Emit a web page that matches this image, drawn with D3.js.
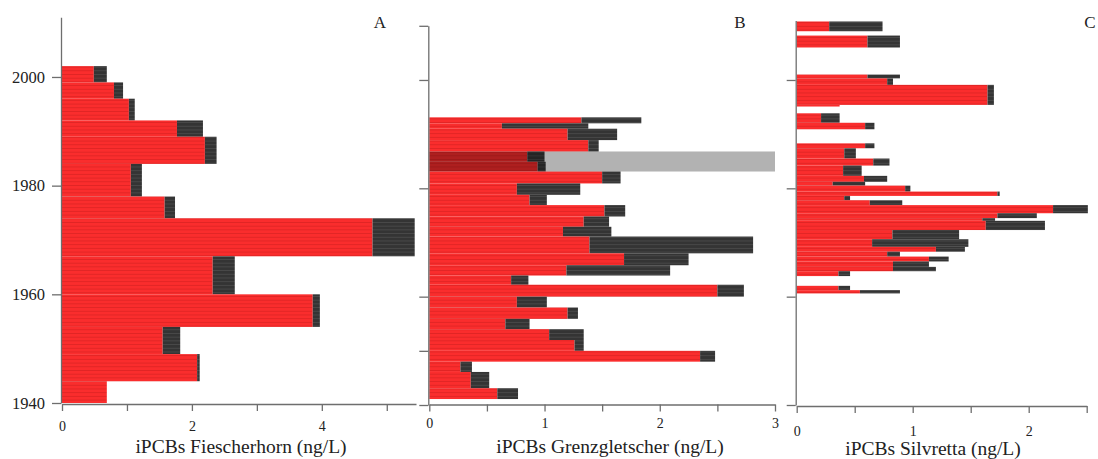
<!DOCTYPE html>
<html>
<head>
<meta charset="utf-8">
<script src="https://cdn.jsdelivr.net/npm/d3@7"></script>
<style>
  body { margin: 0; background: #fff; }
  svg { display: block; font-family: "Liberation Serif", "DejaVu Serif", serif; }
  .axis { font-family: "Liberation Serif", "DejaVu Serif", serif; }
  .axis path, .axis line { stroke: #6e6e6e; stroke-width: 1.3; }
  .axis text { fill: #222; }
</style>
</head>
<body>
<svg id="chart" width="1098" height="459"></svg>
<script>
// --- Fiescherhorn (A): layer boundaries (years) and iPCB values per layer
var aEdges = [2002, 1999, 1996, 1992, 1989, 1984, 1978, 1974, 1967, 1960, 1954, 1949, 1944, 1940];
var aRed   = [0.49, 0.80, 1.03, 1.77, 2.20, 1.06, 1.58, 4.78, 2.32, 3.86, 1.55, 2.08, 0.69];
var aDark  = [0.20, 0.14, 0.09, 0.40, 0.18, 0.17, 0.16, 0.65, 0.34, 0.11, 0.27, 0.04, 0.00];

// --- Grenzgletscher (B)
var bEdges = [1993.1, 1992.0, 1991.0, 1988.9, 1986.8, 1984.9, 1983.1, 1980.9, 1978.8, 1976.9,
              1974.8, 1972.9, 1971.1, 1968.0, 1965.8, 1963.9, 1962.2, 1960.0, 1958.0, 1955.9,
              1954.0, 1952.0, 1950.0, 1948.0, 1946.1, 1943.1, 1941.1];
var bRed  = [1.32, 0.63, 1.20, 1.38, 0.85, 0.94, 1.50, 0.76, 0.87, 1.52, 1.34, 1.16, 1.39,
             1.69, 1.19, 0.71, 2.50, 0.76, 1.20, 0.66, 1.04, 1.26, 2.35, 0.27, 0.36, 0.59];
var bDark = [0.52, 0.75, 0.43, 0.09, 0.15, 0.07, 0.16, 0.55, 0.15, 0.18, 0.22, 0.42, 1.42,
             0.56, 0.90, 0.15, 0.23, 0.26, 0.09, 0.21, 0.30, 0.08, 0.13, 0.10, 0.16, 0.18];
var bShade = [1986.8, 1983.1];   // shaded interval in B

// --- Silvretta (C): samples are not contiguous, so top/bottom per sample
var cTop    = [2010.8, 2008.2, 2001.0, 2000.3, 1999.1, 1995.4, 1993.85, 1992.1, 1988.3, 1987.4,
               1985.5, 1984.2, 1982.3, 1981.2, 1980.5, 1979.4, 1978.6, 1977.8, 1976.9, 1975.4,
               1974.5, 1974.0, 1972.3, 1970.6, 1969.2, 1968.3, 1967.4, 1966.5, 1965.5, 1964.7,
               1962.0, 1961.2];
var cBottom = [2009.0, 2006.0, 2000.3, 1999.1, 1995.4, 1995.1, 1992.1, 1990.9, 1987.4, 1985.5,
               1984.2, 1982.3, 1981.2, 1980.5, 1979.4, 1978.6, 1977.8, 1976.9, 1975.4, 1974.5,
               1974.0, 1972.3, 1970.6, 1969.2, 1968.3, 1967.4, 1966.5, 1965.5, 1964.7, 1963.8,
               1961.2, 1960.6];
var cRed  = [0.28, 0.61, 0.61, 0.78, 1.645, 0.37, 0.21, 0.59, 0.59, 0.41, 0.66, 0.40, 0.58, 0.31,
             0.935, 1.73, 0.41, 0.63, 2.21, 1.73, 1.60, 1.63, 0.825, 0.65, 1.20, 0.78, 1.14,
             0.83, 0.83, 0.36, 0.36, 0.545];
var cDark = [0.46, 0.28, 0.28, 0.05, 0.055, 0.00, 0.16, 0.08, 0.08, 0.10, 0.14, 0.16, 0.20, 0.28,
             0.045, 0.02, 0.05, 0.28, 0.30, 0.34, 0.11, 0.51, 0.575, 0.83, 0.25, 0.11, 0.17,
             0.31, 0.37, 0.10, 0.10, 0.345];

var yearTicksA = [1940, 1960, 1980, 2000];
var yearTicksB = [1940, 1950, 1960, 1980, 2000, 2010];
var yearTicksC = [1940, 1960, 1980, 2000];

var svg = d3.select("#chart");

// striped fills (thin lines between layers)
var defs = svg.append("defs");
function stripe(id, base, line) {
  var p = defs.append("pattern").attr("id", id)
    .attr("patternUnits", "userSpaceOnUse").attr("width", 10).attr("height", 3.7);
  p.append("rect").attr("width", 10).attr("height", 3.7).attr("fill", base);
  p.append("rect").attr("width", 10).attr("height", 0.7).attr("fill", line);
}
stripe("redStripe", "#fa2d2d", "#d82222");
stripe("darkStripe", "#343434", "#4f4f4f");

function rowsFromEdges(edges, red, dark) {
  return red.map(function(r, i) {
    return {top: edges[i], bottom: edges[i + 1], red: r, dark: dark[i]};
  });
}
function rowsFromPairs(top, bottom, red, dark) {
  return red.map(function(r, i) {
    return {top: top[i], bottom: bottom[i], red: r, dark: dark[i]};
  });
}

var panels = [
  {rows: rowsFromEdges(aEdges, aRed, aDark), xMax: 5.45, xr: [62, 416], yTop: 2011, yr: [403, 17.2],
   xAxisY: 404, xTicks: [0, 1, 2, 3, 4, 5], xLabels: [0, 2, 4], labelPad: 10,
   yTicks: yearTicksA, yLabels: true, letter: "A", letterX: 380,
   title: "iPCBs Fiescherhorn (ng/L)", titleX: 241, titleY: 453},
  {rows: rowsFromEdges(bEdges, bRed, bDark), xMax: 3, xr: [429.3, 775], yTop: 2010, yr: [405, 25.8],
   xAxisY: 404.5, xTicks: d3.range(0, 3.01, 0.5), xLabels: [0, 1, 2, 3], labelPad: 7,
   yTicks: yearTicksB, yLabels: false, letter: "B", letterX: 740, shade: bShade,
   title: "iPCBs Grenzgletscher (ng/L)", titleX: 610, titleY: 453},
  {rows: rowsFromPairs(cTop, cBottom, cRed, cDark), xMax: 2.5, xr: [796.7, 1086.7], yTop: 2011, yr: [405, 20.4],
   xAxisY: 406, xTicks: d3.range(0, 2.51, 0.5), xLabels: [0, 1, 2], labelPad: 13,
   yTicks: yearTicksC, yLabels: false, letter: "C", letterX: 1090,
   title: "iPCBs Silvretta (ng/L)", titleX: 933, titleY: 455}
];

panels.forEach(function(p) {
  var x = d3.scaleLinear().domain([0, p.xMax]).range(p.xr);
  var y = d3.scaleLinear().domain([1940, p.yTop]).range(p.yr);
  var g = svg.append("g");

  var rows = g.selectAll("g.row").data(p.rows).enter().append("g").attr("class", "row");
  rows.append("rect")
    .attr("x", x(0))
    .attr("y", function(d) { return y(d.top); })
    .attr("width", function(d) { return x(d.red) - x(0); })
    .attr("height", function(d) { return y(d.bottom) - y(d.top); })
    .attr("fill", "url(#redStripe)");
  rows.filter(function(d) { return d.dark > 0; }).append("rect")
    .attr("x", function(d) { return x(d.red); })
    .attr("y", function(d) { return y(d.top); })
    .attr("width", function(d) { return x(d.red + d.dark) - x(d.red); })
    .attr("height", function(d) { return y(d.bottom) - y(d.top); })
    .attr("fill", "url(#darkStripe)");

  if (p.shade) {
    g.append("rect")
      .attr("x", x(0)).attr("width", x(p.xMax) - x(0))
      .attr("y", y(p.shade[0])).attr("height", y(p.shade[1]) - y(p.shade[0]))
      .attr("fill", "#000").attr("opacity", 0.3);
  }

  var ya = d3.axisLeft(y).tickValues(p.yTicks).tickSize(9).tickSizeOuter(0).tickPadding(7)
    .tickFormat(p.yLabels ? d3.format("d") : function() { return ""; });
  svg.append("g").attr("class", "axis")
    .attr("transform", "translate(" + (x(0) - 1) + ",0)")
    .call(ya)
    .call(function(s) { s.selectAll("text").style("font-size", "16.5px"); });

  var xa = d3.axisBottom(x).tickValues(p.xTicks).tickSize(7).tickSizeOuter(0).tickPadding(p.labelPad)
    .tickFormat(function(v) { return p.xLabels.indexOf(v) >= 0 ? d3.format("d")(v) : ""; });
  svg.append("g").attr("class", "axis")
    .attr("transform", "translate(0," + p.xAxisY + ")")
    .call(xa)
    .call(function(s) { s.selectAll("text").style("font-size", "14px"); });

  svg.append("text").attr("x", p.letterX).attr("y", 28)
    .attr("text-anchor", "middle").attr("fill", "#222").style("font-size", "17px")
    .text(p.letter);

  svg.append("text").attr("x", p.titleX).attr("y", p.titleY)
    .attr("text-anchor", "middle").attr("fill", "#222").style("font-size", "19.5px")
    .text(p.title);
});
</script>
</body>
</html>
